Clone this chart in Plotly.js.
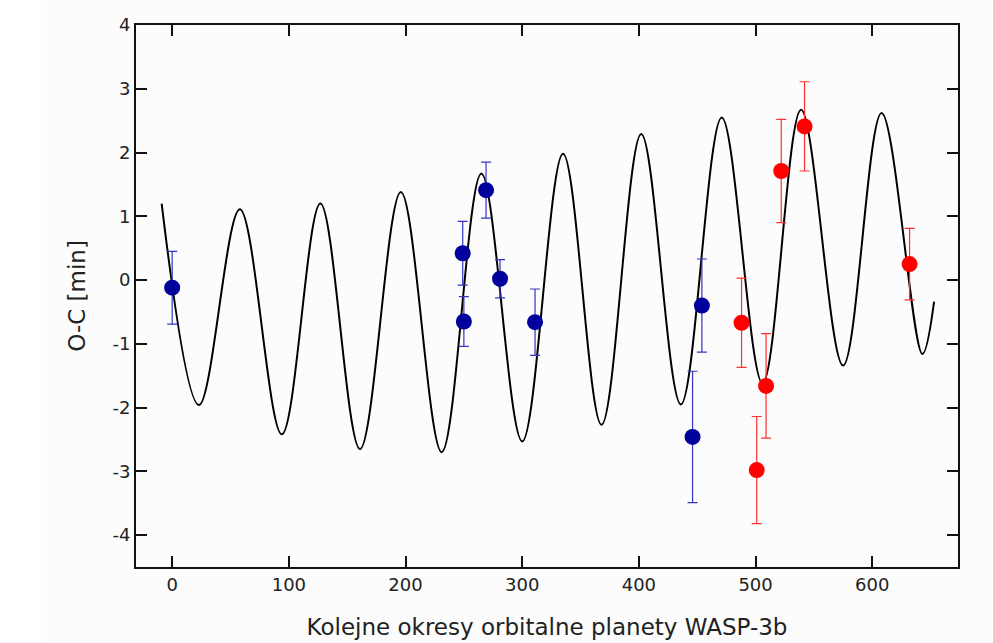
<!DOCTYPE html>
<html>
<head>
<meta charset="utf-8">
<script src="https://cdn.plot.ly/plotly-3.0.1.min.js"></script>
<style>
  html, body { margin: 0; padding: 0; background: #ffffff; }
  #chart { position: absolute; left: 41px; top: 0; width: 952px; height: 643px; }
</style>
</head>
<body>
<div id="chart"></div>
<script>
// Model curve (start, extremes, end)
const curveX = [-9, 23, 58, 94, 127, 161, 196, 231, 265, 300, 335, 368, 402, 436, 471, 506, 539, 575, 608, 643, 653];
const curveY = [1.20, -1.96, 1.11, -2.42, 1.20, -2.65, 1.38, -2.70, 1.67, -2.53, 1.98, -2.27, 2.29, -1.95, 2.55, -1.62, 2.67, -1.34, 2.62, -1.16, -0.34];

// Blue observations
const blueX = [0, 249, 250, 269, 281, 311, 446, 454];
const blueY = [-0.12, 0.42, -0.65, 1.41, 0.02, -0.66, -2.46, -0.40];
const blueErr = [0.57, 0.50, 0.39, 0.44, 0.30, 0.52, 1.03, 0.73];

// Red observations
const redX = [488, 501, 509, 522, 542, 632];
const redY = [-0.67, -2.98, -1.66, 1.71, 2.41, 0.25];
const redErr = [0.70, 0.84, 0.82, 0.81, 0.70, 0.56];

const xTicks = [0, 100, 200, 300, 400, 500, 600];
const yTicks = [-4, -3, -2, -1, 0, 1, 2, 3, 4];

const FONT = 'DejaVu Sans, Verdana, sans-serif';

const traces = [
  {
    x: curveX, y: curveY, type: 'scatter', mode: 'lines',
    line: { color: '#000000', width: 2, shape: 'spline', smoothing: 1 },
    hoverinfo: 'skip', showlegend: false
  },
  {
    x: blueX, y: blueY, type: 'scatter', mode: 'markers',
    marker: { color: '#00009c', size: 16 },
    error_y: { type: 'data', array: blueErr, visible: true, color: '#3535c0', thickness: 1.2, width: 5 },
    showlegend: false
  },
  {
    x: redX, y: redY, type: 'scatter', mode: 'markers',
    marker: { color: '#ff0000', size: 16 },
    error_y: { type: 'data', array: redErr, visible: true, color: '#ff3030', thickness: 1.2, width: 5 },
    showlegend: false
  }
];

const axisCommon = {
  showgrid: false, zeroline: false,
  showline: true, linecolor: '#111111', linewidth: 2,
  ticks: 'inside', ticklen: 11, tickwidth: 2, tickcolor: '#111111',
  mirror: 'ticks',
  tickfont: { family: FONT, size: 18, color: '#222222' }
};

const layout = {
  width: 952, height: 643,
  margin: { l: 95, r: 35, t: 25, b: 76 },
  paper_bgcolor: '#fbfcfb',
  plot_bgcolor: '#fbfcfb',
  showlegend: false,
  xaxis: Object.assign({}, axisCommon, {
    range: [-31, 673.5],
    tickvals: xTicks, ticktext: xTicks.map(String),
    title: { text: 'Kolejne okresy orbitalne planety WASP-3b', font: { family: FONT, size: 23, color: '#222222' }, standoff: 25 }
  }),
  yaxis: Object.assign({}, axisCommon, {
    range: [-4.5, 4],
    tickvals: yTicks, ticktext: yTicks.map(String),
    title: { text: 'O-C [min]', font: { family: FONT, size: 23, color: '#222222' }, standoff: 20 }
  })
};

Plotly.newPlot('chart', traces, layout, { displayModeBar: false, staticPlot: true });
</script>
</body>
</html>
